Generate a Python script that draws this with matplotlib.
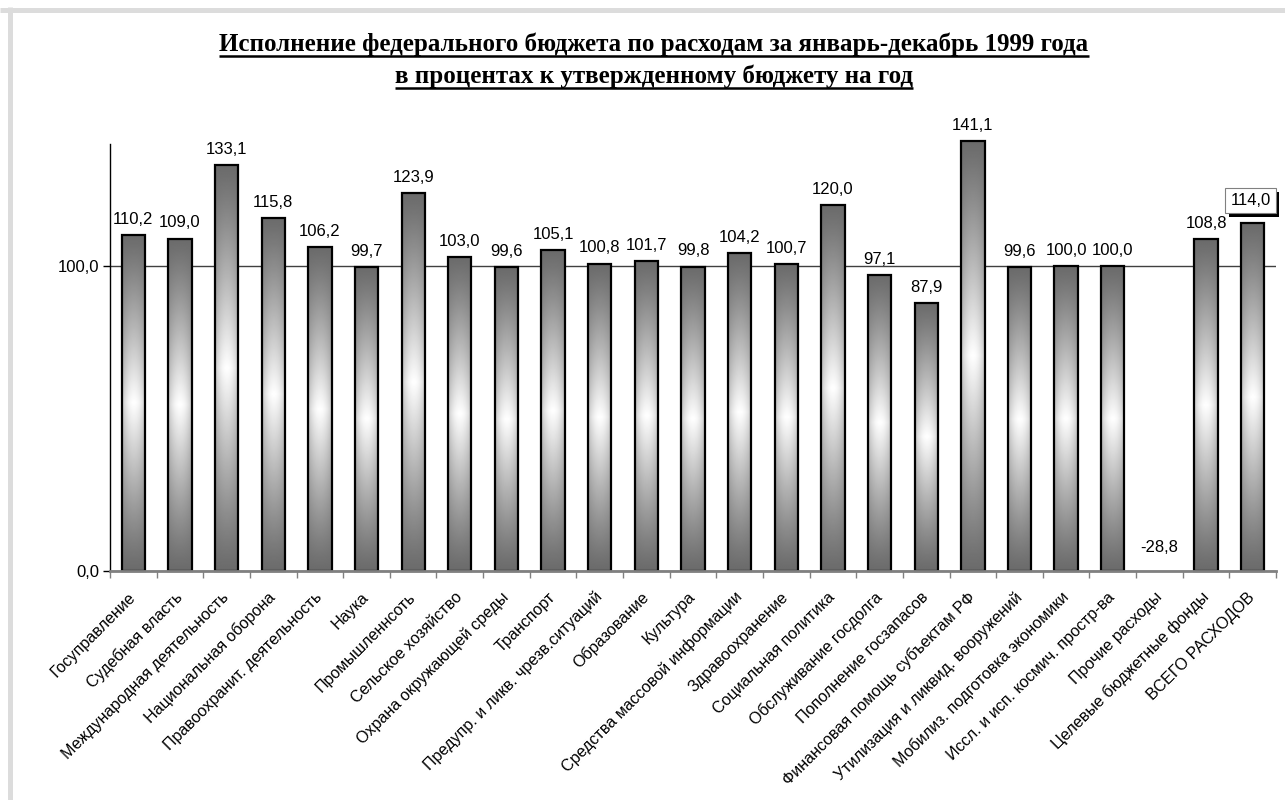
import numpy as np
import matplotlib
matplotlib.use('Agg')
import matplotlib.pyplot as plt
from matplotlib.lines import Line2D
import matplotlib.patheffects as pe

categories = [
    'Госуправление', 'Судебная власть', 'Международная деятельность',
    'Национальная оборона', 'Правоохранит. деятельность', 'Наука',
    'Промышленнсоть', 'Сельское хозяйство', 'Охрана окружающей среды',
    'Транспорт', 'Предупр. и ликв. чрезв.ситуаций', 'Образование',
    'Культура', 'Средства массовой информации', 'Здравоохранение',
    'Социальная политика', 'Обслуживание госдолга', 'Пополнение госзапасов',
    'Финансовая помощь субъектам РФ', 'Утилизация и ликвид. вооружений',
    'Мобилиз. подготовка экономики', 'Иссл. и исп. космич. простр-ва',
    'Прочие расходы', 'Целевые бюджетные фонды', 'ВСЕГО РАСХОДОВ',
]
values = [110.2, 109.0, 133.1, 115.8, 106.2, 99.7, 123.9, 103.0, 99.6, 105.1,
          100.8, 101.7, 99.8, 104.2, 100.7, 120.0, 97.1, 87.9, 141.1, 99.6,
          100.0, 100.0, -28.8, 108.8, 114.0]
yticks = [0, 100]
ytick_labels = ['0,0', '100,0']
title_lines = ['Исполнение федерального бюджета по расходам за январь-декабрь 1999 года',
               'в процентах к утвержденному бюджету на год']

W, H = 1285, 800
fig = plt.figure(figsize=(W / 100, H / 100), dpi=100)
fig.patch.set_facecolor('white')

# light grey frame (top and left)
fig.add_artist(Line2D([0, 1], [1 - 9.5 / H, 1 - 9.5 / H], transform=fig.transFigure,
                      color='#dcdcdc', lw=3.6, solid_capstyle='butt'))
fig.add_artist(Line2D([9.5 / W, 9.5 / W], [0, 1 - 7 / H], transform=fig.transFigure,
                      color='#dcdcdc', lw=3.6, solid_capstyle='butt'))

ax = fig.add_axes([110 / W, 1 - 571 / H, (1276 - 110) / W, (571 - 144) / H])
n = len(categories)
x = np.arange(n)
bars = ax.bar(x, values, width=0.5, facecolor='none', edgecolor='black',
              linewidth=1.6, zorder=4)
ax.set_xlim(-0.5, n - 0.5)
ax.set_ylim(0, 140)

# gradient fill
ny, nx = 300, 60
t = np.linspace(0, 1, ny)[:, None]
s = np.linspace(0, 1, nx)[None, :]
dy = np.abs(2 * t - 1)
dx = np.abs(2 * s - 1)
dark = 0.42
grad = dark + (1 - dark) * (1 - dy) ** 1.15 * (1 - 0.38 * dx ** 2)
for b, v in zip(bars, values):
    if v <= 0:
        b.set_linewidth(0)
        continue
    b.set_clip_on(False)
    x0 = b.get_x()
    x1 = x0 + b.get_width()
    im = ax.imshow(grad, extent=(x0, x1, 0, v), cmap='gray', vmin=0, vmax=1,
                   aspect='auto', interpolation='bilinear', zorder=3)
    im.set_clip_on(False)
ax.set_xlim(-0.5, n - 0.5)
ax.set_ylim(0, 140)

# value labels
for i, v in enumerate(values):
    lab = f'{v:.1f}'.replace('.', ',')
    if v < 0:
        ax.annotate(lab, xy=(i, 0), xytext=(0, 14), textcoords='offset points',
                    ha='center', va='baseline', fontsize=12, family='Liberation Sans',
                    annotation_clip=False)
    elif i == n - 1:
        t_ = ax.annotate(lab, xy=(i, v), xytext=(-1.5, 13), textcoords='offset points',
                         ha='center', va='baseline', fontsize=12, family='Liberation Sans',
                         annotation_clip=False, zorder=6,
                         bbox=dict(boxstyle='square,pad=0.3', fc='white', ec='#808080', lw=0.8))
        t_.get_bbox_patch().set_path_effects([
            pe.SimplePatchShadow(offset=(2.5, -2.5), shadow_rgbFace='black', alpha=1.0),
            pe.Normal()])
    else:
        ax.annotate(lab, xy=(i, v), xytext=(0, 8), textcoords='offset points',
                    ha='center', va='baseline', fontsize=12, family='Liberation Sans',
                    annotation_clip=False)

# axes styling
for side in ('top', 'right'):
    ax.spines[side].set_visible(False)
ax.spines['left'].set_color('black')
ax.spines['left'].set_linewidth(1.0)
ax.spines['bottom'].set_color('#808080')
ax.spines['bottom'].set_linewidth(2.0)
ax.spines['bottom'].set_zorder(5)

ax.set_yticks(yticks)
ax.set_yticklabels(ytick_labels, fontsize=12, family='Liberation Sans')
ax.tick_params(axis='y', direction='out', length=5, width=1, color='black', pad=3)
ax.yaxis.grid(True, color='#404040', lw=1.0, zorder=1)
ax.set_axisbelow(True)

ax.set_xticks(x)
ax.set_xticklabels(categories, rotation=45, ha='right', va='center',
                   rotation_mode='anchor', fontsize=11.6, family='Liberation Sans')
ax.tick_params(axis='x', which='major', length=0, pad=17)
ax.set_xticks(np.arange(-0.5, n, 1), minor=True)
ax.tick_params(axis='x', which='minor', direction='out', length=5, width=1, color='#808080')

# title with underline
title_y = [51, 83]
fig.canvas.draw()
renderer = fig.canvas.get_renderer()
for line, yb in zip(title_lines, title_y):
    tx = fig.text(654 / W, 1 - yb / H, line, ha='center', va='baseline',
                  fontsize=18, fontweight='bold', family='Liberation Serif')
    bb = tx.get_window_extent(renderer=renderer)
    uy = 1 - (yb + 5) / H
    fig.add_artist(Line2D([bb.x0 / W, bb.x1 / W], [uy, uy], transform=fig.transFigure,
                          color='black', lw=1.8, solid_capstyle='butt'))

fig.savefig('out.png', dpi=100)
